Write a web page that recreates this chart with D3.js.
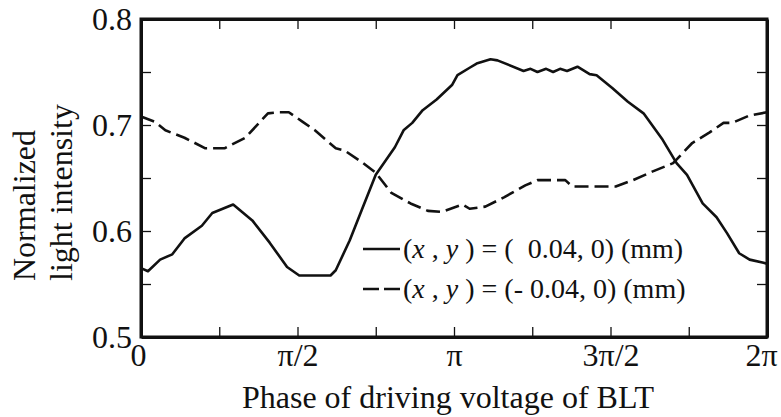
<!DOCTYPE html>
<html>
<head>
<meta charset="utf-8">
<script src="https://cdn.jsdelivr.net/npm/d3@7"></script>
<style>
  body { margin: 0; background: #fff; }
  svg text { font-family: "Liberation Serif", "Times New Roman", serif; fill: #111; }
</style>
</head>
<body>
<div id="chart"></div>
<script>
// phase in degrees (0..360 = 0..2pi), normalized light intensity
var solidPhase = [0, 4, 11, 18, 25, 35, 41, 53, 64, 74, 84, 91, 109, 112, 120, 127, 135, 146, 151, 156,
  162, 170, 179, 182, 189, 193, 201, 205, 220, 224, 228, 233, 237, 241, 245, 251, 258, 262, 271, 280,
  289, 300, 308, 314, 323, 331, 337, 344, 350, 358, 360];
var solidIntensity = [0.565, 0.562, 0.573, 0.578, 0.593, 0.605, 0.617, 0.625, 0.610, 0.589, 0.566, 0.558, 0.558, 0.563, 0.591, 0.620, 0.653, 0.679, 0.695, 0.702,
  0.714, 0.724, 0.738, 0.747, 0.754, 0.758, 0.762, 0.761, 0.751, 0.753, 0.750, 0.753, 0.750, 0.753, 0.751, 0.755, 0.748, 0.747, 0.735, 0.722,
  0.711, 0.686, 0.664, 0.653, 0.626, 0.613, 0.598, 0.579, 0.573, 0.570, 0.569];

var dashedPhase = [0, 8, 14, 25, 37, 48, 60, 73, 79, 85, 93, 100, 112, 117, 127, 135, 144, 155, 165, 173,
  185, 189, 198, 209, 221, 228, 244, 248, 273, 283, 294, 306, 317, 327, 335, 340, 350, 360];
var dashedIntensity = [0.708, 0.703, 0.695, 0.688, 0.678, 0.678, 0.688, 0.711, 0.712, 0.712, 0.703, 0.695, 0.678, 0.676, 0.665, 0.655, 0.636, 0.626, 0.619, 0.618,
  0.625, 0.621, 0.623, 0.632, 0.643, 0.648, 0.648, 0.642, 0.642, 0.648, 0.656, 0.664, 0.683, 0.693, 0.702, 0.702, 0.709, 0.712];

var xTicks = [0, 45, 90, 135, 180, 225, 270, 315, 360];
var xTickLabels = ["0", "", "\u03c0/2", "", "\u03c0", "", "3\u03c0/2", "", "2\u03c0"];
var yTicks = [0.5, 0.55, 0.6, 0.65, 0.7, 0.75, 0.8];
var yTickLabels = ["0.5", "", "0.6", "", "0.7", "", "0.8"];

var legendLabels = ["(x , y ) = (  0.04, 0) (mm)", "(x , y ) = (- 0.04, 0) (mm)"];

(function () {
var width = 781, height = 417;
var plotLeft = 141, plotRight = 767, plotTop = 19, plotBottom = 337;

var svg = d3.select("#chart").append("svg")
    .attr("width", width)
    .attr("height", height);

var x = d3.scaleLinear().domain([0, 360]).range([plotLeft, plotRight]);
var y = d3.scaleLinear().domain([0.5, 0.8]).range([plotBottom, plotTop]);

function styleAxis(g) {
  g.select(".domain").attr("stroke", "#111").attr("stroke-width", 3);
  g.selectAll(".tick line").attr("stroke", "#111").attr("stroke-width", 1.3);
  g.selectAll(".tick text").attr("font-size", "32px")
    .attr("font-family", "'Liberation Serif', serif").attr("fill", "#111");
}

// bottom / top
svg.append("g").attr("transform", "translate(0," + plotBottom + ")")
  .call(d3.axisBottom(x).tickValues(xTicks).tickSize(-10).tickSizeOuter(0).tickPadding(6)
    .tickFormat(function(d, i) { return xTickLabels[i]; }))
  .call(styleAxis)
  .selectAll(".tick text")
  .attr("dx", function(d) { return d === 0 ? -3 : d === 360 ? -6 : 0; });
svg.append("g").attr("transform", "translate(0," + plotTop + ")")
  .call(d3.axisTop(x).tickValues(xTicks).tickSize(-10).tickSizeOuter(0).tickFormat(""))
  .call(styleAxis);

// left / right
svg.append("g").attr("transform", "translate(" + plotLeft + ",0)")
  .call(d3.axisLeft(y).tickValues(yTicks).tickSize(-10).tickSizeOuter(0).tickPadding(9)
    .tickFormat(function(d, i) { return yTickLabels[i]; }))
  .call(styleAxis);
svg.append("g").attr("transform", "translate(" + plotRight + ",0)")
  .call(d3.axisRight(y).tickValues(yTicks).tickSize(-10).tickSizeOuter(0).tickFormat(""))
  .call(styleAxis);

// end ticks sit on the frame
svg.selectAll(".tick line").filter(function(d) { return d === 0 || d === 360 || d === 0.5 || d === 0.8; })
  .remove();

// frame
svg.append("rect")
  .attr("x", plotLeft).attr("y", plotTop)
  .attr("width", plotRight - plotLeft).attr("height", plotBottom - plotTop)
  .attr("fill", "none").attr("stroke", "#111").attr("stroke-width", 3);

var line = d3.line()
  .x(function(d) { return x(d[0]); })
  .y(function(d) { return y(d[1]); });

var series = [
  { phase: solidPhase, values: solidIntensity, dash: null },
  { phase: dashedPhase, values: dashedIntensity, dash: "14,6" }
];

svg.selectAll("path.curve")
  .data(series)
  .enter()
  .append("path")
  .attr("class", "curve")
  .attr("d", function(s) { return line(d3.zip(s.phase, s.values)); })
  .attr("fill", "none")
  .attr("stroke", "#111")
  .attr("stroke-width", 2.6)
  .attr("stroke-linejoin", "round")
  .attr("stroke-dasharray", function(s) { return s.dash; });

// legend
var legend = svg.append("g").attr("transform", "translate(363,249)");
var rows = legend.selectAll("g")
  .data(series)
  .enter()
  .append("g")
  .attr("transform", function(d, i) { return "translate(0," + (i * 40) + ")"; });

rows.append("line")
  .attr("x1", 0).attr("x2", 37)
  .attr("stroke", "#111").attr("stroke-width", 2.6)
  .attr("stroke-dasharray", function(s) { return s.dash ? "16,5" : null; });

rows.each(function(d, i) {
  var t = d3.select(this).append("text")
    .attr("x", 40).attr("y", 9)
    .attr("font-size", "28px")
    .style("white-space", "pre");
  var parts = legendLabels[i].split(/(x|y)(?= )/);
  parts.forEach(function(p) {
    var ts = t.append("tspan").text(p);
    if (p === "x" || p === "y") ts.attr("font-style", "italic");
  });
});

// axis titles
svg.append("text")
  .attr("x", 448).attr("y", 408)
  .attr("text-anchor", "middle")
  .attr("font-size", "32px")
  .text("Phase of driving voltage of BLT");

svg.append("text")
  .attr("transform", "translate(35,281) rotate(-90)")
  .attr("font-size", "32px")
  .text("Normalized");
svg.append("text")
  .attr("transform", "translate(72,281) rotate(-90)")
  .attr("font-size", "32px")
  .text("light intensity");
})();
</script>
</body>
</html>
